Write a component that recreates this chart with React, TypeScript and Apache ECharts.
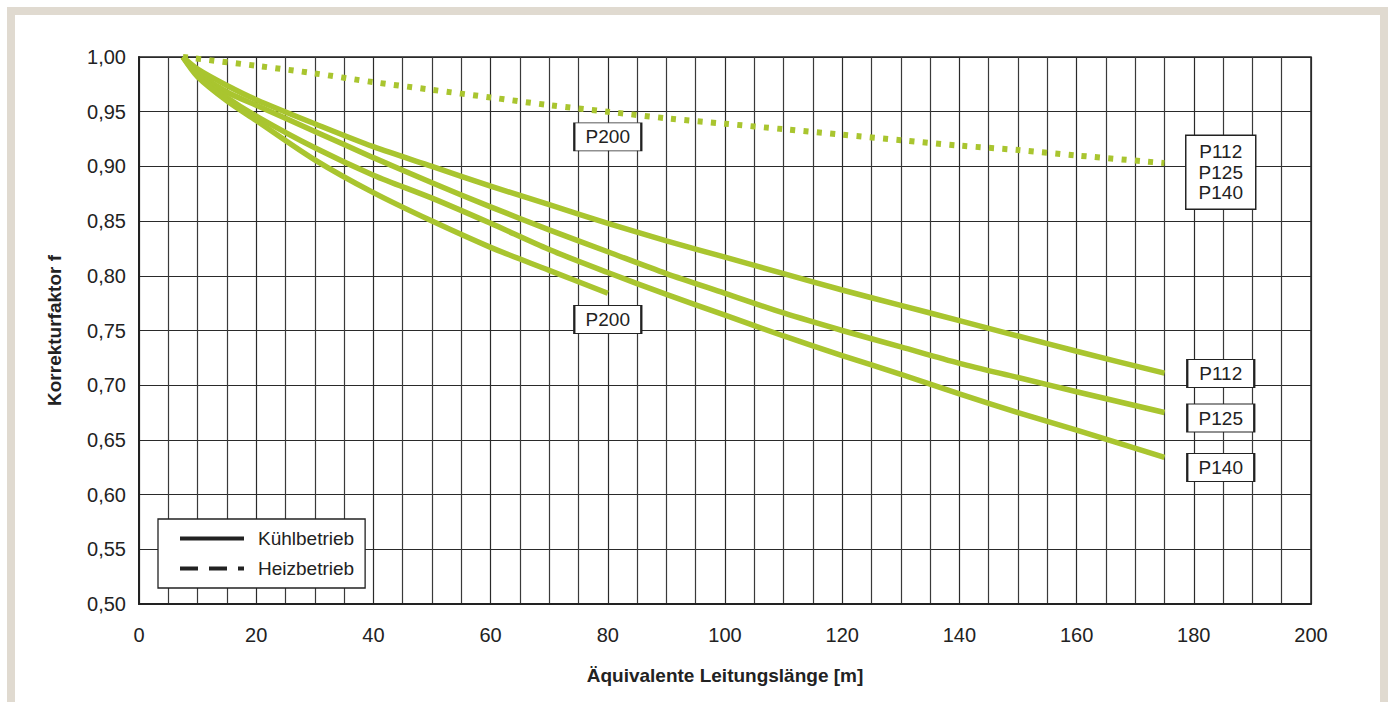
import React, { useEffect, useRef } from "react";
import * as echarts from "echarts";

const FONT = "'Liberation Sans', Arial, Helvetica, sans-serif";
const GREEN = "#a9c52f";
const INK = "#222222";

// Kühlbetrieb (cooling)
const xCool = [7.5, 10, 15, 20, 30, 40, 50, 60, 70, 80, 90, 100, 110, 120, 130, 140, 150, 160, 175];
const coolP112 = [1.0, 0.989, 0.974, 0.961, 0.939, 0.918, 0.9, 0.882, 0.865, 0.848, 0.832, 0.817, 0.802, 0.787, 0.773, 0.759, 0.745, 0.731, 0.711];
const coolP125 = [1.0, 0.986, 0.968, 0.956, 0.932, 0.908, 0.885, 0.863, 0.842, 0.822, 0.802, 0.784, 0.766, 0.75, 0.735, 0.72, 0.707, 0.694, 0.675];
const coolP140 = [1.0, 0.984, 0.963, 0.946, 0.917, 0.892, 0.871, 0.848, 0.824, 0.803, 0.783, 0.764, 0.745, 0.727, 0.71, 0.692, 0.675, 0.659, 0.634];
const xP200 = [7.5, 10, 15, 20, 30, 40, 50, 60, 70, 80];
const coolP200 = [1.0, 0.982, 0.96, 0.942, 0.906, 0.876, 0.85, 0.826, 0.805, 0.784];

// Heizbetrieb (heating)
const xHeat = [7.5, 20, 30, 40, 50, 60, 70, 80, 90, 100, 110, 120, 130, 140, 150, 160, 175];
const heat = [1.0, 0.992, 0.985, 0.977, 0.97, 0.963, 0.956, 0.95, 0.944, 0.939, 0.934, 0.929, 0.924, 0.919, 0.915, 0.91, 0.903];

// Annotation boxes
const boxText = ["P200", "P200", "P112\nP125\nP140", "P112", "P125", "P140"];
const boxX = [80, 80, 184.6, 184.6, 184.6, 184.6];
const boxY = [0.927, 0.76, 0.8946, 0.7107, 0.67, 0.6247];

const legendNames = ["Kühlbetrieb", "Heizbetrieb"];

const xTicks = { min: 0, max: 200, step: 20 };
const yTicks = { min: 0.5, max: 1.0, step: 0.05 };

const zip = (xs: number[], ys: number[]) => xs.map((x, i) => [x, ys[i]]);

export default function App() {
  const ref = useRef<HTMLDivElement>(null);
  useEffect(() => {
    if (!ref.current) return;
    const chart = echarts.init(ref.current, null, { renderer: "svg" });
    const solid = (name: string, xs: number[], ys: number[]) => ({
      name,
      type: "line",
      data: zip(xs, ys),
      smooth: 0.3,
      symbol: "none",
      lineStyle: { color: GREEN, width: 5.5, cap: "butt" },
      itemStyle: { color: GREEN },
      z: 3,
      silent: true,
    });
    chart.setOption({
      animation: false,
      textStyle: { fontFamily: FONT },
      graphic: [
        {
          type: "rect",
          shape: { x: 11, y: 11, width: 1373, height: 800 },
          style: { fill: "none", stroke: "#e0dad0", lineWidth: 8 },
          silent: true,
        },
      ],
      grid: {
        left: 139,
        right: 81,
        top: 57,
        bottom: 98,
        show: true,
        borderColor: INK,
        borderWidth: 1.5,
        backgroundColor: "transparent",
      },
      legend: {
        show: true,
        selectedMode: false,
        orient: "vertical",
        left: 158,
        top: 519,
        padding: [10, 11, 10, 20],
        itemGap: 11,
        itemWidth: 64,
        itemHeight: 16,
        backgroundColor: "#ffffff",
        borderColor: INK,
        borderWidth: 1.3,
        itemStyle: { opacity: 0, borderWidth: 0 },
        lineStyle: { width: 4, opacity: 1 },
        textStyle: { fontFamily: FONT, fontSize: 19, color: INK, padding: [0, 0, 0, 9] },
        data: [
          { name: legendNames[0], lineStyle: { width: 4, type: "solid" } },
          { name: legendNames[1], lineStyle: { width: 4, type: [18, 11] } },
        ],
        z: 20,
      },
      xAxis: {
        type: "value",
        min: xTicks.min,
        max: xTicks.max,
        interval: xTicks.step,
        name: "Äquivalente Leitungslänge [m]",
        nameLocation: "middle",
        nameGap: 62,
        nameTextStyle: { fontFamily: FONT, fontSize: 19, fontWeight: "bold", color: INK },
        axisLine: { show: true, onZero: false, lineStyle: { color: INK, width: 2 } },
        axisTick: { show: false },
        axisLabel: { margin: 21, fontSize: 20, color: INK, fontFamily: FONT },
        splitLine: { show: true, lineStyle: { color: "#2a2a2a", width: 1.2 } },
        minorTick: { show: false, splitNumber: 4 },
        minorSplitLine: { show: true, lineStyle: { color: "#3a3a3a", width: 1.2 } },
      },
      yAxis: {
        type: "value",
        min: yTicks.min,
        max: yTicks.max,
        interval: yTicks.step,
        name: "Korrekturfaktor f",
        nameLocation: "middle",
        nameGap: 75,
        nameRotate: 90,
        nameTextStyle: { fontFamily: FONT, fontSize: 19, fontWeight: "bold", color: INK },
        axisLine: { show: true, onZero: false, lineStyle: { color: INK, width: 2 } },
        axisTick: { show: false },
        axisLabel: {
          margin: 13,
          fontSize: 20,
          color: INK,
          fontFamily: FONT,
          formatter: (v: number) => v.toFixed(2).replace(".", ","),
        },
        splitLine: { show: true, lineStyle: { color: "#2a2a2a", width: 1.2 } },
      },
      series: [
        {
          name: "Heiz P112/P125/P140",
          type: "line",
          data: zip(xHeat, heat),
          smooth: 0.3,
          symbol: "none",
          lineStyle: { color: GREEN, width: 6, type: [5, 8.3], cap: "butt" },
          z: 3,
          silent: true,
        },
        solid("Kühl P112", xCool, coolP112),
        solid("Kühl P125", xCool, coolP125),
        solid("Kühl P140", xCool, coolP140),
        solid("Kühl P200", xP200, coolP200),
        {
          name: legendNames[0],
          type: "line",
          data: [],
          symbol: "none",
          itemStyle: { color: INK },
          lineStyle: { color: INK, width: 4, type: "solid" },
        },
        {
          name: legendNames[1],
          type: "line",
          data: [],
          symbol: "none",
          itemStyle: { color: INK },
          lineStyle: { color: INK, width: 4, type: [18, 11] },
        },
        {
          name: "labels",
          type: "line",
          data: [],
          symbol: "none",
          z: 10,
          markPoint: {
            silent: true,
            animation: false,
            data: boxText.map((t, i) => {
              const lines = t.split("\n").length;
              return {
                coord: [boxX[i], boxY[i]],
                symbol: "rect",
                symbolSize: lines > 1 ? [70, 74] : [67, 28],
                itemStyle: { color: "#ffffff", borderColor: INK, borderWidth: 1.5 },
                label: {
                  show: true,
                  position: "inside",
                  formatter: t,
                  fontFamily: FONT,
                  fontSize: 19,
                  lineHeight: 20.5,
                  color: INK,
                },
              };
            }),
          },
        },
      ],
    });
    return () => chart.dispose();
  }, []);
  return (
    <div
      ref={ref}
      style={{ position: "fixed", left: 0, top: 0, width: 1392, height: 702, background: "#ffffff" }}
    />
  );
}
